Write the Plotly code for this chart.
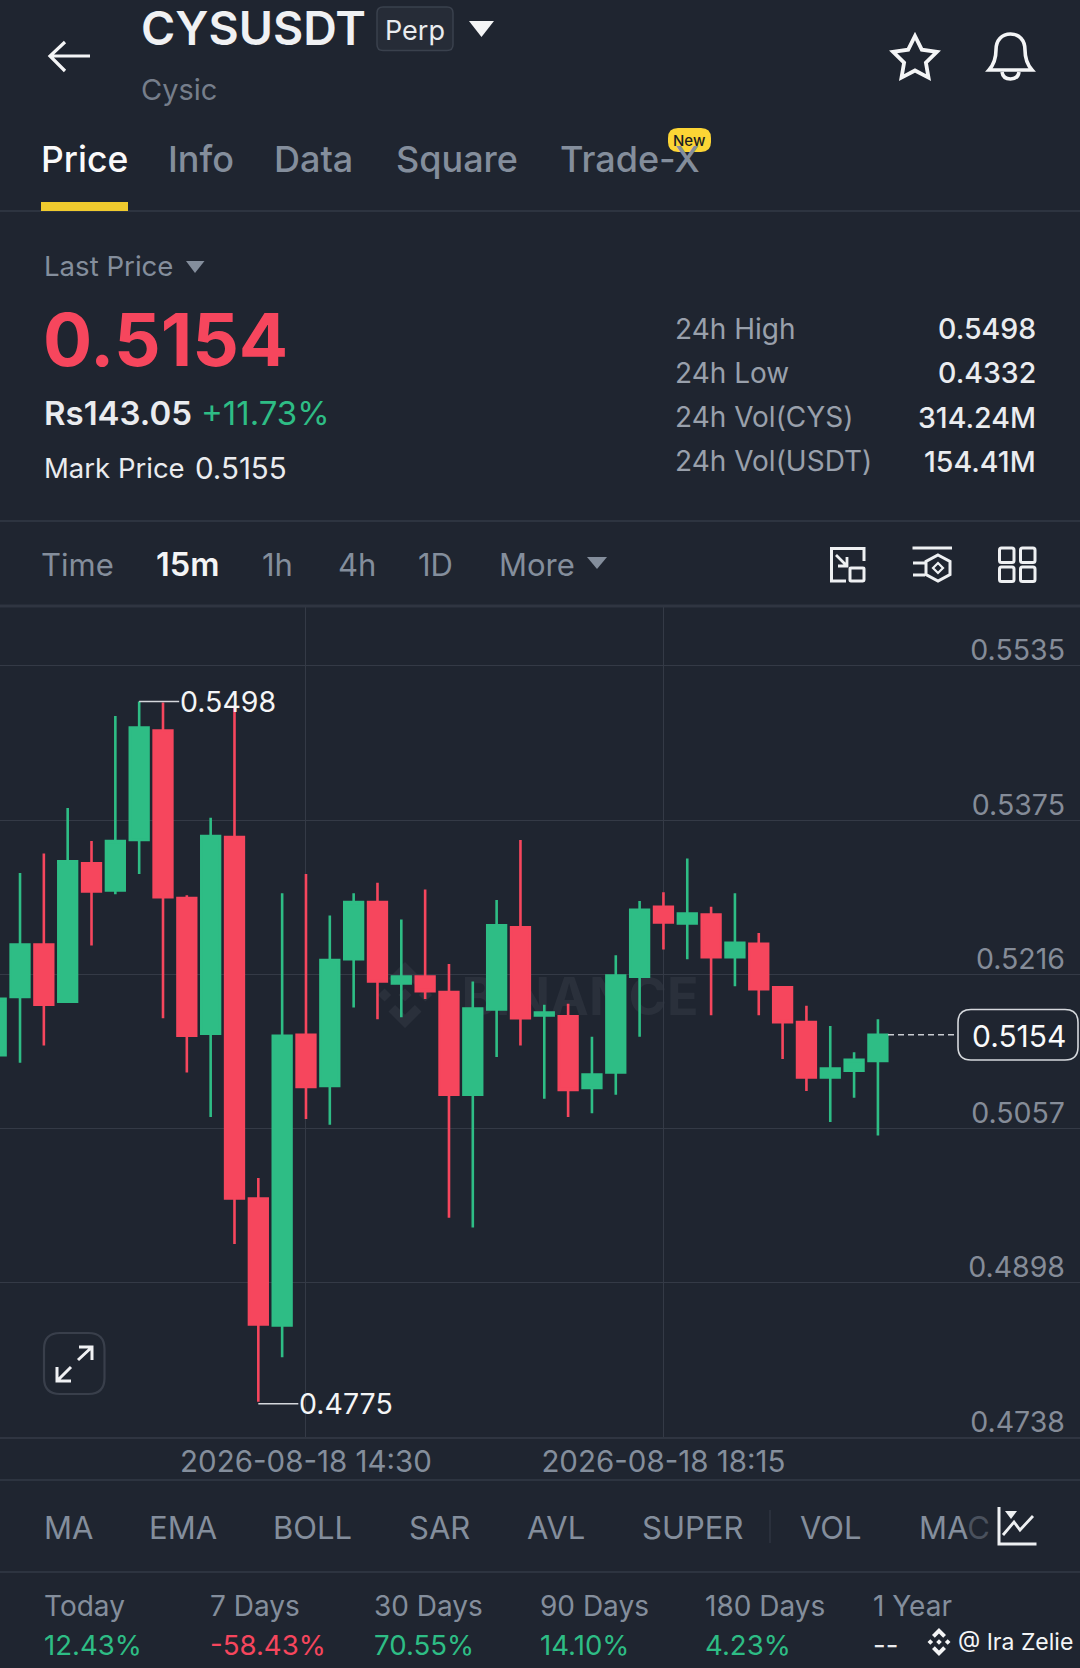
import math
import re
import plotly.graph_objects as go

# ---------- data ----------
times = ["2026-08-18 " + t for t in [
    "11:15","11:30","11:45","12:00","12:15","12:30","12:45","13:00","13:15","13:30",
    "13:45","14:00","14:15","14:30","14:45","15:00","15:15","15:30","15:45","16:00",
    "16:15","16:30","16:45","17:00","17:15","17:30","17:45","18:00","18:15","18:30",
    "18:45","19:00","19:15","19:30","19:45","20:00","20:15","20:30"]]
open_ = [.5133,.5193,.5247,.5188,.5331,.5303,.5355,.5468,.5295,.5155,.5358,.4985,.4854,.5154,.5101,.5232,.5291,.5207,.5214,
         .5198,.5092,.5180,.5265,.5174,.5173,.5099,.5115,.5214,.5286,.5269,.5278,.5234,.5248,.5203,.5167,.5110,.5117,.5127]
high = [.5200,.5321,.5341,.5388,.5354,.5483,.5498,.5497,.5298,.5378,.5494,.5006,.5300,.5320,.5277,.5300,.5311,.5273,.5304,
        .5227,.5209,.5293,.5355,.5185,.5186,.5152,.5236,.5292,.5301,.5336,.5286,.5300,.5259,.5203,.5184,.5163,.5136,.5170]
low = [.5126,.5125,.5143,.5188,.5246,.5299,.5320,.5171,.5115,.5069,.4938,.4775,.4821,.5067,.5061,.5182,.5170,.5172,.5191,
       .4965,.4955,.5131,.5143,.5088,.5069,.5073,.5092,.5152,.5242,.5232,.5174,.5204,.5174,.5129,.5096,.5064,.5089,.5050]
close = [.5191,.5247,.5185,.5333,.5302,.5354,.5471,.5296,.5153,.5359,.4985,.4855,.5153,.5100,.5231,.5291,.5209,.5214,.5199,
         .5092,.5181,.5267,.5171,.5177,.5097,.5113,.5215,.5283,.5270,.5279,.5234,.5249,.5201,.5167,.5110,.5119,.5128,.5154]
price_ticks = [0.5535, 0.5375, 0.5216, 0.5057, 0.4898, 0.4738]
price_labels = ["0.5535", "0.5375", "0.5216", "0.5057", "0.4898", "0.4738"]
time_ticks = ["2026-08-18 14:30", "2026-08-18 18:15"]
tabs = ["Price", "Info", "Data", "Square", "Trade-X"]
stat_names = ["24h High", "24h Low", "24h Vol(CYS)", "24h Vol(USDT)"]
stat_values = ["0.5498", "0.4332", "314.24M", "154.41M"]
intervals = ["Time", "15m", "1h", "4h", "1D", "More"]
indicators = ["MA", "EMA", "BOLL", "SAR", "AVL", "SUPER", "VOL"]
period_names = ["Today", "7 Days", "30 Days", "90 Days", "180 Days", "1 Year"]
period_values = ["12.43%", "-58.43%", "70.55%", "14.10%", "4.23%", "--"]

# ---------- style ----------
W, H = 1080, 1668
BG = "#1f2530"
GRID = "#343a46"
SEP = "#333a46"
GRAY = "#848e9c"
LIGHT = "#eaecef"
GREEN = "#2ebd85"
RED = "#f6465d"
YELLOW = "#fcd535"
FONT = "Inter"

px = lambda x: x / W
py = lambda y: 1 - y / H


def path(d):
    toks = re.findall(r"[A-Za-z]|-?\d+\.?\d*", d)
    out, is_x = [], True
    for t in toks:
        if t.isalpha():
            out.append(t)
            is_x = True
        else:
            out.append(f"{px(float(t)):.6f}" if is_x else f"{py(float(t)):.6f}")
            is_x = not is_x
    return " ".join(out)


shapes, notes = [], []


def P(d, color=None, width=0, fill=None, layer="above"):
    shapes.append(dict(type="path", xref="paper", yref="paper", path=path(d), layer=layer,
                       line=dict(color=color or "rgba(0,0,0,0)", width=width),
                       fillcolor=fill or "rgba(0,0,0,0)"))


def rrect(x0, y0, x1, y1, r):
    return (f"M {x0+r} {y0} L {x1-r} {y0} Q {x1} {y0} {x1} {y0+r} L {x1} {y1-r} Q {x1} {y1} {x1-r} {y1} "
            f"L {x0+r} {y1} Q {x0} {y1} {x0} {y1-r} L {x0} {y0+r} Q {x0} {y0} {x0+r} {y0} Z")


def T(x, y, text, size=27, color=GRAY, anchor="left", weight=400):
    notes.append(dict(xref="paper", yref="paper", x=px(x), y=py(y), text=text, showarrow=False,
                      xanchor=anchor, yanchor="middle", borderpad=0, borderwidth=0,
                      font=dict(family=FONT, size=size, color=color, weight=weight)))


def sep(y, color=SEP, width=1.5):
    shapes.append(dict(type="line", xref="paper", yref="paper", x0=0, x1=1, y0=py(y), y1=py(y),
                       line=dict(color=color, width=width)))


def binance_logo(cx, cy, s, color, layer="above"):
    def dia(x, y, r):
        return f"M {x} {y-r} L {x+r} {y} L {x} {y+r} L {x-r} {y} Z "
    d = dia(cx, cy, 0.2 * s) + dia(cx - 0.62 * s, cy, 0.2 * s) + dia(cx + 0.62 * s, cy, 0.2 * s)
    d += f"M {cx} {cy-s} L {cx+0.5*s} {cy-0.5*s} L {cx+0.3*s} {cy-0.3*s} L {cx} {cy-0.6*s} L {cx-0.3*s} {cy-0.3*s} L {cx-0.5*s} {cy-0.5*s} Z "
    d += f"M {cx} {cy+s} L {cx+0.5*s} {cy+0.5*s} L {cx+0.3*s} {cy+0.3*s} L {cx} {cy+0.6*s} L {cx-0.3*s} {cy+0.3*s} L {cx-0.5*s} {cy+0.5*s} Z"
    P(d, fill=color, layer=layer)


# ---------- separators ----------
P("M 0 1438 L 1080 1438 L 1080 1446 L 0 1446 Z", fill=BG)  # hides the grid's extra run below the chart floor
sep(211)
sep(521)
sep(606, "#2f3541", 3)
sep(1438, "#2f3541", 2)
sep(1480)
sep(1572)

# ---------- header ----------
P("M 90 56 L 51 56 M 65 42 L 50 56 L 65 71", "#f4f5f6", 3.2)
T(141, 28, "CYSUSDT", 46.5, "#f0f1f3", weight=600)
P(rrect(377, 7, 453, 50.5, 6), "#3a414d", 1.5, "#262c37")
T(415, 31, "Perp", 27, LIGHT, "center")
P("M 469 21 L 494 21 L 481.5 37 Z", fill="#f4f5f6")
T(141, 89, "Cysic", 29, "#767e8b")
star = []
for i in range(10):
    r = 23 if i % 2 == 0 else 11.5
    a = -math.pi / 2 + i * math.pi / 5
    star.append(f"{'M' if i == 0 else 'L'} {915 + r*math.cos(a):.1f} {59 + r*math.sin(a):.1f}")
P(" ".join(star) + " Z", "#f4f5f6", 3.8)
P("M 989 70 L 1032 70 Q 1025 62 1025 50 C 1025 40 1019 34 1010.5 34 C 1002 34 996 40 996 50 Q 996 62 989 70 Z",
  "#f4f5f6", 3.6)
P("M 1002 72 Q 1003 79 1010.5 79 Q 1018 79 1019 72", "#f4f5f6", 3.6)

# ---------- tabs ----------
for name, x in zip(tabs, [41, 168, 274, 395.5, 560]):
    T(x, 159.5, name, 35.5 if name == "Price" else 36, "#fafafa" if name == "Price" else GRAY, weight=500)
P("M 41 202 L 128 202 L 128 211 L 41 211 Z", fill="#f0cb2e")
P(rrect(668, 128, 711, 152, 10), fill=YELLOW)
T(689.5, 140, "New", 15, "#1a1d22", "center", 500)

# ---------- price panel ----------
T(43.5, 266, "Last Price", 27.6, GRAY)
P("M 186 261 L 204.5 261 L 195 273 Z", fill=GRAY)
T(43, 339, "0.5154", 73, RED, weight=700)
T(43.5, 413, "Rs143.05", 33, LIGHT, weight=600)
T(200.5, 413, "+11.73%", 33, GREEN)
T(43.5, 468, "Mark Price", 27.5, LIGHT)
T(194.5, 468, "0.5155", 29.5, LIGHT)
for name, val, y in zip(stat_names, stat_values, [328.5, 373, 417, 461]):
    T(674.5, y, name, 28, "#99a0ab")
    T(1035.5, y, val, 28.5, LIGHT, "right", 500)

# ---------- interval row ----------
for name, x in zip(intervals, [41, 155.5, 261.5, 338, 418, 499]):
    T(x, 564.5, name, 32.5 if name == "15m" else 31, "#f4f5f6" if name == "15m" else GRAY,
      weight=600 if name == "15m" else 400)
P("M 587 557 L 607 557 L 597 569 Z", fill=GRAY)
ICON = "#eef0f2"
P("M 864 561 L 864 548.5 L 831.5 548.5 L 831.5 581 L 846 581", ICON, 3)
P(rrect(850, 568, 864, 581, 1), ICON, 3)
P("M 836 555 L 847 566 M 847 557 L 847 566 L 838 566", ICON, 2.8)
P("M 912.5 548 L 952 548 M 913 563 L 925 563 M 913 575 L 925 575", ICON, 3)
P("M 938 555 L 950 561.5 L 950 574.5 L 938 581 L 926 574.5 L 926 561.5 Z", ICON, 3)
P("M 938 563 L 943 568 L 938 573 L 933 568 Z", ICON, 2.2)
for x0 in (999.5, 1020.5):
    for y0 in (548, 567):
        P(rrect(x0, y0, x0 + 14.5, y0 + 14.5, 2), ICON, 3)

# ---------- chart furniture ----------
shapes.append(dict(type="rect", xref="paper", yref="paper", x0=px(450), x1=px(710), y0=py(1022), y1=py(966),
                   layer="below", line=dict(width=0), fillcolor="rgba(0,0,0,0)",
                   label=dict(text="BINANCE", font=dict(family=FONT, size=52, color="#2a303b", weight=700),
                              textposition="middle center")))
binance_logo(405, 995, 33, "#2a303b", "below")

P(rrect(44, 1333, 104.5, 1394, 16), "#393f4b", 2.2)
P("M 92 1347 L 78 1360 M 79 1347 L 92 1347 L 92 1360", "#f0f1f3", 3)
P("M 57 1381 L 71 1367 M 57 1367 L 57 1381 L 71 1381", "#f0f1f3", 3)

# last price pointer
shapes.append(dict(type="line", xref="paper", yref="y", x0=px(888), x1=px(958), y0=close[-1], y1=close[-1],
                   line=dict(color="#c9ccd1", width=1.5, dash="6px,4px")))
P(rrect(958, 1009.5, 1078, 1060, 13), "#d5d8dc", 1.6, BG)
T(1066, 1036, "0.5154", 30, "#fafafa", "right")

# high / low markers, placed from the data
i_hi = high.index(max(high))
i_lo = low.index(min(low))
for i, val, dx, txt, ysh in [(i_hi, high[i_hi], 40, "0.5498", 0), (i_lo, low[i_lo], 40, "0.4775", -2)]:
    notes.append(dict(xref="x", yref="y", x=times[i], y=val, ax=dx, ay=0, axref="pixel", ayref="pixel",
                      text=txt, showarrow=True, arrowhead=0, arrowwidth=1.5, arrowcolor="#d5d8dc",
                      standoff=0, startstandoff=0, xanchor="left", yanchor="middle", borderpad=0, yshift=ysh,
                      font=dict(family=FONT, size=28.5, color="#f4f5f6")))

# ---------- indicator row ----------
for name, x in zip(indicators, [43.5, 149, 273, 409, 526.5, 641.5, 800]):
    T(x, 1527.5, name, 31, GRAY)
T(919, 1527.5, 'MA<span style="color:#4a515d">C</span>', 31, GRAY)
P("M 770 1510 L 770 1543", "#2f3541", 1.5)
P("M 999 1507 L 999 1544 L 1036.5 1544", ICON, 3)
P("M 1003 1535 L 1014 1522 L 1020 1530 L 1033 1516", ICON, 2.8)
P("M 1005 1511 L 1017 1511 L 1011 1519 Z", fill=ICON)

# ---------- period row ----------
for name, val, x in zip(period_names, period_values, [43.5, 209.5, 373.5, 539.5, 704.5, 872.5]):
    T(x, 1606, name, 28, GRAY)
    c = LIGHT if val == "--" else (RED if val.startswith("-") else GREEN)
    T(x, 1645, val, 27.6, c)
binance_logo(939, 1642, 14, "#f4f5f6")
T(958, 1642, "@ Ira Zelie", 23, "#f4f5f6")

# ---------- figure ----------
fig = go.Figure(go.Candlestick(
    x=times, open=open_, high=high, low=low, close=close, showlegend=False, hoverinfo="skip",
    increasing=dict(line=dict(color=GREEN, width=2.6), fillcolor=GREEN),
    decreasing=dict(line=dict(color=RED, width=2.6), fillcolor=RED),
))
fig.update_layout(
    width=W, height=H, margin=dict(l=0, r=0, t=0, b=0, pad=0),
    paper_bgcolor=BG, plot_bgcolor=BG, boxgap=0.215, boxgroupgap=0, showlegend=False,
    font=dict(family=FONT), shapes=shapes, annotations=notes,
    xaxis=dict(type="date", domain=[0, 1], range=["2026-08-18 11:17:24", "2026-08-18 22:37:12"],
               rangeslider=dict(visible=False), tickmode="array", tickvals=time_ticks, ticktext=time_ticks,
               showgrid=True, gridcolor=GRID, gridwidth=1.3, zeroline=False, showline=False,
               ticks="", ticklabelstandoff=-3,
               tickfont=dict(family=FONT, size=29.5, color=GRAY)),
    yaxis=dict(domain=[py(1444), py(606)], range=[0.47315, 0.55966], side="right",
               tickmode="array", tickvals=price_ticks, ticktext=price_labels,
               ticklabelposition="inside top", ticklabelshift=4, ticklabelstandoff=12,
               showgrid=True, gridcolor=GRID, gridwidth=1.3,
               zeroline=False, showline=False, ticks="",
               tickfont=dict(family=FONT, size=28.5, color="#858c98")),
)
fig.write_html("out.html", config=dict(displayModeBar=False),
               post_script="document.body.style.margin='0';document.body.style.overflow='hidden';")
